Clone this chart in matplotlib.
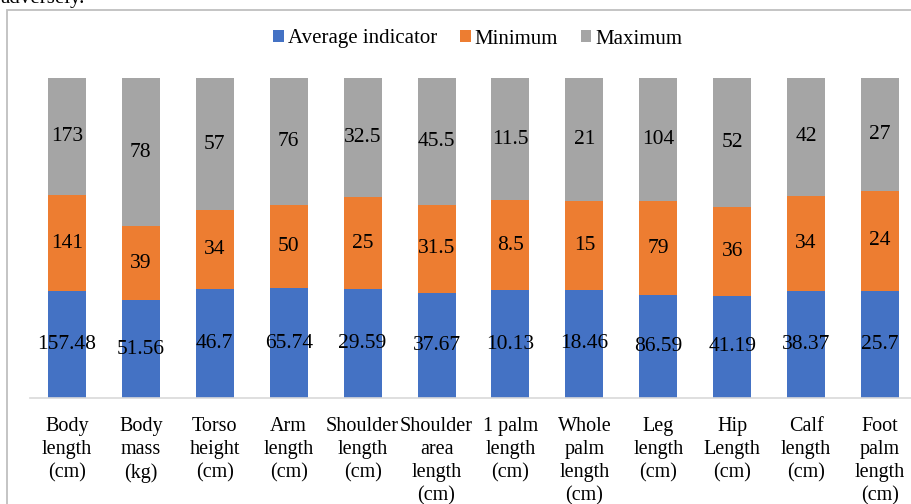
import matplotlib
matplotlib.use("Agg")
import matplotlib.pyplot as plt
from matplotlib.patches import Rectangle
import numpy as np

plt.rcParams['font.family'] = ['Liberation Serif', 'DejaVu Serif']

categories = [
    "Body\nlength\n(cm)", "Body\nmass\n(kg)", "Torso\nheight\n(cm)", "Arm\nlength\n(cm)",
    "Shoulder\nlength\n(cm)", "Shoulder\narea\nlength\n(cm)", "1 palm\nlength\n(cm)",
    "Whole\npalm\nlength\n(cm)", "Leg\nlength\n(cm)", "Hip\nLength\n(cm)",
    "Calf\nlength\n(cm)", "Foot\npalm\nlength\n(cm)",
]
average = [157.48, 51.56, 46.7, 65.74, 29.59, 37.67, 10.13, 18.46, 86.59, 41.19, 38.37, 25.7]
minimum = [141, 39, 34, 50, 25, 31.5, 8.5, 15, 79, 36, 34, 24]
maximum = [173, 78, 57, 76, 32.5, 45.5, 11.5, 21, 104, 52, 42, 27]

series = [("Average indicator", average, "#4472C4"),
          ("Minimum", minimum, "#ED7D31"),
          ("Maximum", maximum, "#A5A5A5")]

W, H = 911, 504
fig = plt.figure(figsize=(W / 100, H / 100), dpi=100)

# outer chart frame (runs past the right and bottom edges)
fig.patches.append(Rectangle((7 / W, -0.2), 1.5, (H - 10) / H + 0.2,
                             transform=fig.transFigure, fill=False,
                             edgecolor="#BFBFBF", linewidth=1.3))

# preceding line of body text, mostly cut off at the top
fig.text(0.0, 1 - 3 / H, "adversely.", ha="left", va="baseline",
         fontsize=15, color="black")

ax = fig.add_axes([30 / W, 1 - 398 / H, 887 / W, (398 - 78) / H])

x = np.arange(len(categories))
totals = np.sum([average, minimum, maximum], axis=0)
bottom = np.zeros(len(categories))
handles = []
for name, vals, color in series:
    vals = np.asarray(vals, dtype=float)
    frac = vals / totals
    bars = ax.bar(x, frac, width=0.515, bottom=bottom, color=color, label=name)
    handles.append(bars)
    for xi, b, f, v in zip(x, bottom, frac, vals):
        ax.text(xi, b + f / 2, f"{v:g}", ha="center", va="center",
                fontsize=15.5, color="black")
    bottom += frac

ax.set_xlim(-0.5, len(categories) - 0.5)
ax.set_ylim(0, 1)
ax.set_xticks(x)
ax.set_xticklabels(categories, fontsize=14.5, color="black", linespacing=1.3)
ax.tick_params(axis="x", length=0, pad=13.5)
ax.set_yticks([])
for s in ["top", "right", "left"]:
    ax.spines[s].set_visible(False)
ax.spines["bottom"].set_color("#D9D9D9")
ax.spines["bottom"].set_linewidth(1.2)

fig.legend(handles=handles, loc="center", bbox_to_anchor=(478 / W, 1 - 39 / H),
           ncol=3, frameon=False, fontsize=15, handlelength=0.5, handleheight=0.5,
           handletextpad=0.2, columnspacing=1.1, borderaxespad=0)

fig.savefig("out.png", dpi=100)
